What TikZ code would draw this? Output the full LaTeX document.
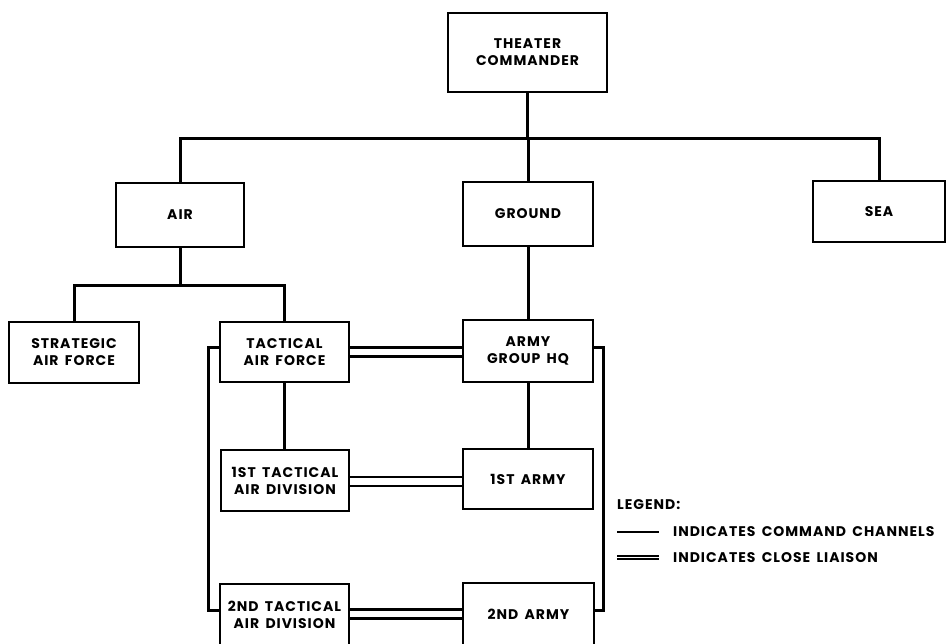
\documentclass[tikz,border=0pt]{standalone}
\usepackage{fontspec}
\setmainfont{Poppins}[LetterSpace=7, WordSpace=1.6]
\usetikzlibrary{calc}
\begin{document}
\begin{tikzpicture}[x=1pt,y=-1pt,
  box/.style={draw, line width=2.6pt, inner sep=0pt, align=center,
    font=\fontsize{14}{17}\selectfont\bfseries},
  cmd/.style={line width=3pt},
  liaison/.style={double, line width=2.6pt, double distance=6.5pt},
  lgtext/.style={anchor=west, inner sep=0pt, font=\fontsize{14}{17}\selectfont\bfseries}]
\useasboundingbox[fill=white] (0,0) rectangle (947,643);
\clip (0,0) rectangle (947,643);
% boxes
\node[box, minimum width=159, minimum height=79] (theater) at (527.5,52.5) {THEATER\\COMMANDER};
\node[box, minimum width=128, minimum height=64] (air) at (180,215) {AIR};
\node[box, minimum width=130, minimum height=64] (ground) at (528,214) {GROUND};
\node[box, minimum width=132, minimum height=61] (sea) at (879,211.5) {SEA};
\node[box, minimum width=130, minimum height=61] (strat) at (74,352.5) {STRATEGIC\\AIR FORCE};
\node[box, minimum width=129, minimum height=60] (tact) at (284.5,352) {TACTICAL\\AIR FORCE};
\node[box, minimum width=130, minimum height=62] (agh) at (528,351) {ARMY\\GROUP HQ};
\node[box, minimum width=128, minimum height=61] (div1) at (285,480.5) {1ST TACTICAL\\AIR DIVISION};
\node[box, minimum width=130, minimum height=60] (army1) at (528,479) {1ST ARMY};
\node[box, minimum width=129, minimum height=61] (div2) at (284.5,614.5) {2ND TACTICAL\\AIR DIVISION};
\node[box, minimum width=131, minimum height=62] (army2) at (528.5,614) {2ND ARMY};
% command channels
\coordinate (topbar) at (527.5,138);
\coordinate (airbar) at (179,285);
\draw[cmd] (theater.south) -- (theater.south |- topbar);
\draw[cmd] (air.north) |- (sea.north |- topbar) -- (sea.north);
\draw[cmd] (ground.north) -- (ground.north |- topbar);
\draw[cmd] (air.south) -- (air.south |- airbar);
\draw[cmd] (strat.north) |- (tact.north |- airbar) -- (tact.north);
\draw[cmd] (tact.south) -- (tact.south |- div1.north);
\draw[cmd] (ground.south) -- (ground.south |- agh.north);
\draw[cmd] (agh.south) -- (army1.north);
% brackets
\coordinate (lbt) at (208,347);
\coordinate (lbb) at (208,610);
\coordinate (rbt) at (603,347);
\coordinate (rbb) at (603,610);
\draw[cmd] (tact.west |- lbt) -- (lbt) -- (lbb) -- (div2.west |- lbb);
\draw[cmd] (agh.east |- rbt) -- (rbt) -- (rbb) -- (army2.east |- rbb);
% close liaison
\coordinate (l1) at (0,352);
\coordinate (l2) at (0,481.5);
\coordinate (l3) at (0,614);
\draw[liaison] (tact.east |- l1) -- (agh.west |- l1);
\draw[liaison] (div1.east |- l2) -- (army1.west |- l2);
\draw[liaison] (div2.east |- l3) -- (army2.west |- l3);
% legend
\node[lgtext] (lg) at (617,505) {LEGEND:};
\coordinate (c1) at (617,532);
\coordinate (c2) at (659,532);
\coordinate (d1) at (617,557.5);
\coordinate (d2) at (659,557.5);
\draw[line width=2.4pt] (c1) -- (c2);
\draw[double, line width=1.7pt, double distance=1.8pt] (d1) -- (d2);
\node[lgtext] (lgc) at (673,532) {INDICATES COMMAND CHANNELS};
\node[lgtext] (lgl) at (673,557.5) {INDICATES CLOSE LIAISON};
\end{tikzpicture}
\end{document}
